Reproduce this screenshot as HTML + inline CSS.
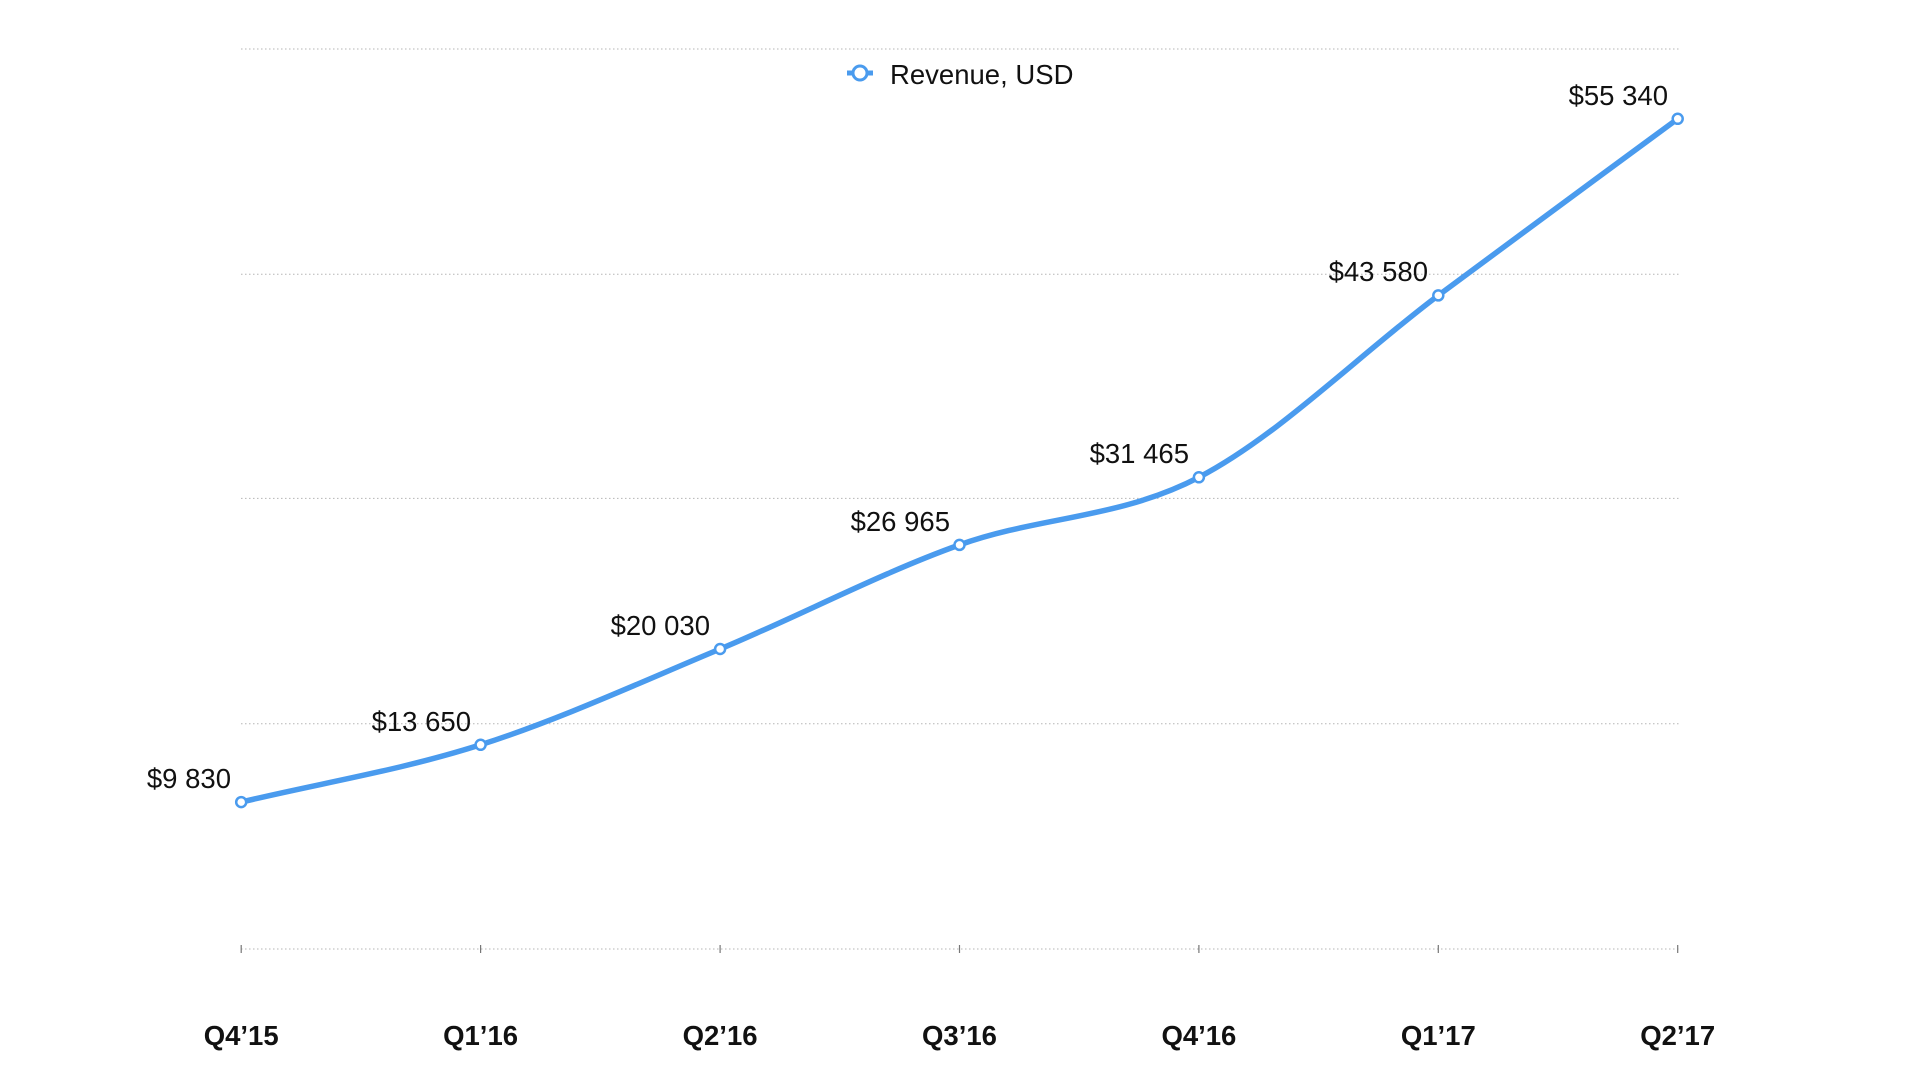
<!DOCTYPE html>
<html><head><meta charset="utf-8"><style>
html,body{margin:0;padding:0;background:#fff;}
svg{display:block;}
text{font-family:"Liberation Sans",Arial,sans-serif;}
</style></head><body>
<svg width="1920" height="1080" viewBox="0 0 1920 1080" xmlns="http://www.w3.org/2000/svg">
<g stroke="#b5b5b5" stroke-width="1" stroke-dasharray="1.5,2.5">
<line x1="241" y1="49" x2="1680" y2="49"/>
<line x1="241" y1="274.3" x2="1680" y2="274.3"/>
<line x1="241" y1="498.4" x2="1680" y2="498.4"/>
<line x1="241" y1="723.7" x2="1680" y2="723.7"/>
<line x1="241" y1="949" x2="1680" y2="949"/>
</g>
<g stroke="#777" stroke-width="1.2">
<line x1="241.2" y1="945" x2="241.2" y2="953"/>
<line x1="480.6" y1="945" x2="480.6" y2="953"/>
<line x1="720.1" y1="945" x2="720.1" y2="953"/>
<line x1="959.5" y1="945" x2="959.5" y2="953"/>
<line x1="1198.9" y1="945" x2="1198.9" y2="953"/>
<line x1="1438.3" y1="945" x2="1438.3" y2="953"/>
<line x1="1677.7" y1="945" x2="1677.7" y2="953"/>
</g>
<path d="M241.2,802.1 C321,783 400.8,770.3 480.6,744.8 C560.4,719.3 640.3,682.3 720.1,649 C799.9,615.7 879.7,573.5 959.5,544.9 C1039.3,516.3 1119.1,518.9 1198.9,477.3 C1278.7,435.7 1358.5,355.15 1438.3,295.4 C1518.1,235.65 1597.9,177.7 1677.7,118.8" fill="none" stroke="#4a9bee" stroke-width="5.5" stroke-linecap="round"/>
<g fill="#fff" stroke="#4a9bee" stroke-width="2.5">
<circle cx="241.2" cy="802.1" r="5"/>
<circle cx="480.6" cy="744.8" r="5"/>
<circle cx="720.1" cy="649" r="5"/>
<circle cx="959.5" cy="544.9" r="5"/>
<circle cx="1198.9" cy="477.3" r="5"/>
<circle cx="1438.3" cy="295.4" r="5"/>
<circle cx="1677.7" cy="118.8" r="5"/>
</g>
<g font-size="27.5" fill="#111" text-anchor="end">
<text x="231" y="788">$9 830</text>
<text x="471" y="731">$13 650</text>
<text x="710" y="635">$20 030</text>
<text x="950" y="531">$26 965</text>
<text x="1189" y="463">$31 465</text>
<text x="1428" y="281">$43 580</text>
<text x="1668" y="105">$55 340</text>
</g>
<g font-size="27.5" font-weight="bold" fill="#111" text-anchor="middle">
<text x="241.2" y="1045">Q4’15</text>
<text x="480.6" y="1045">Q1’16</text>
<text x="720.1" y="1045">Q2’16</text>
<text x="959.5" y="1045">Q3’16</text>
<text x="1198.9" y="1045">Q4’16</text>
<text x="1438.3" y="1045">Q1’17</text>
<text x="1677.7" y="1045">Q2’17</text>
</g>
<line x1="847" y1="73" x2="873" y2="73" stroke="#4a9bee" stroke-width="5"/>
<circle cx="860" cy="73" r="7" fill="#fff" stroke="#4a9bee" stroke-width="3"/>
<text x="890" y="84" font-size="27.5" fill="#111">Revenue, USD</text>
</svg>
</body></html>
